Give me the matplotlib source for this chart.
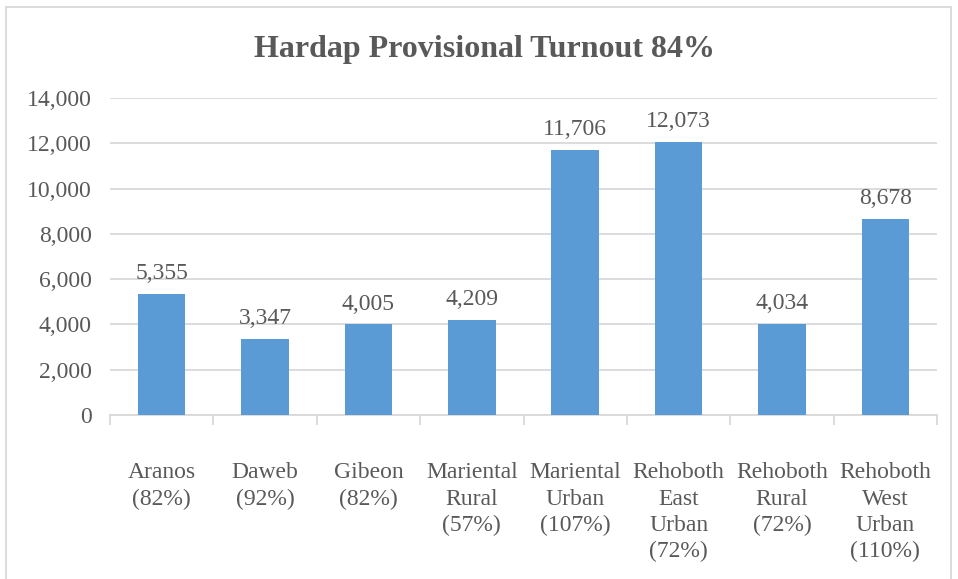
import matplotlib.pyplot as plt
from matplotlib.patches import Rectangle
from matplotlib.ticker import FuncFormatter, FixedLocator

plt.rcParams["font.family"] = ["Liberation Serif", "DejaVu Serif"]

# data
constituencies = ["Aranos\n(82%)", "Daweb\n(92%)", "Gibeon\n(82%)", "Mariental\nRural\n(57%)",
                  "Mariental\nUrban\n(107%)", "Rehoboth\nEast\nUrban\n(72%)", "Rehoboth\nRural\n(72%)",
                  "Rehoboth\nWest\nUrban\n(110%)"]
votes = [5355, 3347, 4005, 4209, 11706, 12073, 4034, 8678]
yticks = [0, 2000, 4000, 6000, 8000, 10000, 12000, 14000]

TEXT = "#595959"
GRID = "#D9D9D9"
BAR = "#5B9BD5"

fig = plt.figure(figsize=(9.58, 5.79), dpi=100)
ax = fig.add_axes([110 / 958, 1 - 415 / 579, (937 - 110) / 958, (415 - 98) / 579])

xs = list(range(len(votes)))
bars = ax.bar(xs, votes, width=0.46, color=BAR, zorder=3)
for x, v in zip(xs, votes):
    ax.annotate(f"{v:,}", (x, v), xytext=(0, 7), textcoords="offset points",
                ha="center", va="bottom", fontsize=17, color=TEXT)

ax.set_xlim(-0.5, len(votes) - 0.5)
ax.set_ylim(0, 14000)
ax.set_yticks(yticks)
ax.yaxis.set_major_formatter(FuncFormatter(lambda v, _: f"{int(v):,}"))
ax.tick_params(axis="y", length=0, labelsize=17, labelcolor=TEXT, pad=13)
ax.grid(axis="y", color=GRID, linewidth=1.3, zorder=0)

ax.set_xticks(xs)
ax.set_xticklabels(constituencies, fontsize=17, color=TEXT, linespacing=1.33)
ax.tick_params(axis="x", which="major", length=0, pad=34)
ax.xaxis.set_minor_locator(FixedLocator([i - 0.5 for i in range(len(votes) + 1)]))
ax.tick_params(axis="x", which="minor", length=7, width=1.3, color=GRID)

for side in ["left", "right", "top"]:
    ax.spines[side].set_visible(False)
ax.spines["bottom"].set_color(GRID)
ax.spines["bottom"].set_linewidth(1.3)

fig.text(485 / 958, 1 - 49 / 579, "Hardap Provisional Turnout 84%", ha="center", va="center",
         fontsize=23, fontweight="bold", color=TEXT)

fig.patches.append(Rectangle((6 / 958, -0.05), (951 - 6) / 958, 1.05 - 7 / 579,
                             transform=fig.transFigure, fill=False, edgecolor=GRID, linewidth=1.3))

fig.savefig("out.png", dpi=100, facecolor="white")
